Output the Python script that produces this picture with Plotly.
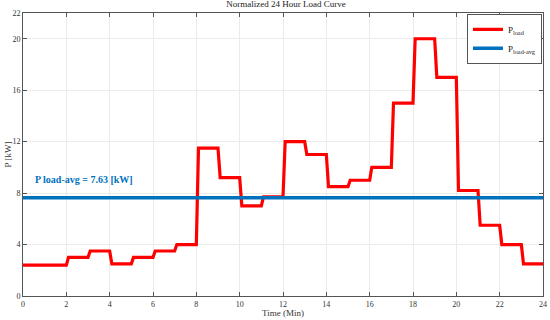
import plotly.graph_objects as go

# Hourly load values [kW] (hour index -> value)
hours = list(range(24))
p_load = [2.4, 2.4, 3.0, 3.5, 2.5, 3.0, 3.5, 4.0, 11.5, 9.2, 7.0, 7.7,
          12.0, 11.0, 8.5, 9.0, 10.0, 15.0, 20.0, 17.0, 8.2, 5.5, 4.0, 2.5]
p_avg = 7.63
x_ticks = list(range(0, 25, 2))
y_ticks = [0, 4, 8, 12, 16, 20, 22]

ramp = 0.1
xs, ys = [], []
for h, v in zip(hours, p_load):
    start = h if h == 0 else h + ramp
    xs += [start, h + 1]
    ys += [v, v]

SERIF = "Liberation Serif, DejaVu Serif, serif"
TXT = "#333333"
fig = go.Figure()
fig.add_trace(go.Scatter(x=xs, y=ys, mode="lines", name="P<sub>load</sub>",
                         line=dict(color="#FF0000", width=3.2)))
fig.add_trace(go.Scatter(x=[0, 24], y=[p_avg, p_avg], mode="lines",
                         name="P<sub>load-avg</sub>",
                         line=dict(color="#0072BD", width=3.5)))
fig.add_annotation(x=0.45, y=p_avg + 1.4, xanchor="left", yanchor="middle",
                   text="<b>P load-avg = %.2f [kW]</b>" % p_avg, showarrow=False,
                   font=dict(family=SERIF, size=10, color="#0072BD"))
# axis titles
fig.add_annotation(x=0.5, y=-0.06, xref="paper", yref="paper",
                   xanchor="center", yanchor="middle", showarrow=False,
                   text="Time (Min)", font=dict(family=SERIF, size=9, color=TXT))
fig.add_annotation(x=-0.029, y=0.5, xref="paper", yref="paper",
                   xanchor="center", yanchor="middle", showarrow=False, textangle=-90,
                   text="P [kW]", font=dict(family=SERIF, size=9, color=TXT))

axis_common = dict(showgrid=True, gridcolor="#ebebeb", gridwidth=1,
                   showline=True, linecolor="#555555", linewidth=1,
                   mirror="ticks", ticks="inside", ticklen=4, tickcolor="#555555",
                   zeroline=False, automargin=False,
                   tickfont=dict(family=SERIF, size=8, color=TXT))
fig.update_xaxes(range=[0, 24], tickvals=x_ticks, **axis_common)
fig.update_yaxes(range=[0, 22], tickvals=y_ticks, **axis_common)
fig.update_layout(
    width=550, height=320,
    margin=dict(l=23, r=7, t=13, b=24),
    paper_bgcolor="white", plot_bgcolor="white",
    title=dict(text="Normalized 24 Hour Load Curve", x=0.52, xanchor="center",
               yref="container", y=0.997, yanchor="top",
               font=dict(family=SERIF, size=9, color="#222222")),
    legend=dict(x=0.998, y=0.997, xanchor="right", yanchor="top",
                bgcolor="white", bordercolor="#555555", borderwidth=1,
                font=dict(family=SERIF, size=9, color="#222222"),
                tracegroupgap=0, itemwidth=30),
    showlegend=True,
)
fig.write_html("out.html", config={"displayModeBar": False},
               post_script="document.body.style.margin='0';")
